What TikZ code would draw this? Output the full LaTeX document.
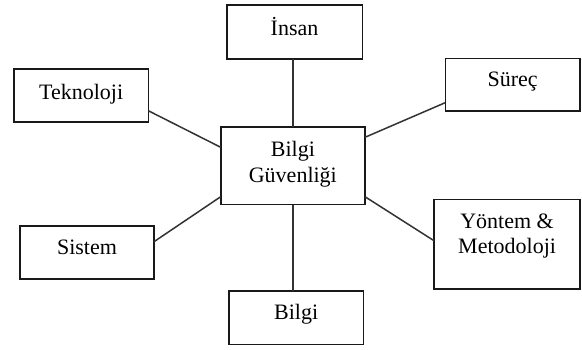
\documentclass[tikz,border=0pt]{standalone}
\usepackage{fontspec}
\setmainfont{Liberation Serif}
\usetikzlibrary{positioning}
\begin{document}
\begin{tikzpicture}[x=1pt,y=-1pt,
  box/.style={draw=black!90, line width=1.6pt, anchor=north west,
    inner xsep=0pt, inner ysep=0pt, outer sep=0pt,
    font=\fontsize{22}{25.5}\selectfont, text=black, align=center},
  link/.style={draw=black!80, line width=1.5pt}]
\useasboundingbox (0,0) rectangle (582,349);
\fill[white] (0,0) rectangle (582,349);
% boxes
\node[box, minimum width=144.3pt, text height=30pt, text depth=47.8pt]
  (c) at (220.7,126.7) {\begin{tabular}[t]{@{}c@{}}Bilgi\\Güvenliği\end{tabular}};
\node[box, minimum width=135.6pt, text height=30pt, text depth=24pt]
  (ins) at (226.7,5) {İnsan};
\node[box, minimum width=134.3pt, text height=30.3pt, text depth=22.4pt]
  (tek) at (14,69) {Teknoloji};
\node[box, minimum width=134.7pt, text height=27.7pt, text depth=25pt]
  (sur) at (445.3,58.3) {Süreç};
\node[box, minimum width=134pt, text height=28.3pt, text depth=24.7pt]
  (sis) at (20,225.7) {Sistem};
\node[box, minimum width=146.2pt, text height=29pt, text depth=60.7pt]
  (yon) at (434,199.3) {\begin{tabular}[t]{@{}c@{}}Yöntem \&\\Metodoloji\end{tabular}};
\node[box, minimum width=134.3pt, text height=28.6pt, text depth=25pt]
  (bil) at (229,290.7) {Bilgi};
% connectors
\draw[link] (c.north) -- (c.north |- ins.south);
\draw[link] (c.south) -- (c.south |- bil.north);
\draw[link] ([yshift=-15.35pt]tek.east) -- ([yshift=18.3pt]c.west);
\draw[link] ([yshift=28.3pt]c.east) -- ([yshift=-18pt]sur.west);
\draw[link] ([yshift=10.5pt]sis.east) -- ([yshift=-31.1pt]c.west);
\draw[link] ([yshift=-31.1pt]c.east) -- ([yshift=3.45pt]yon.west);
\end{tikzpicture}
\end{document}
